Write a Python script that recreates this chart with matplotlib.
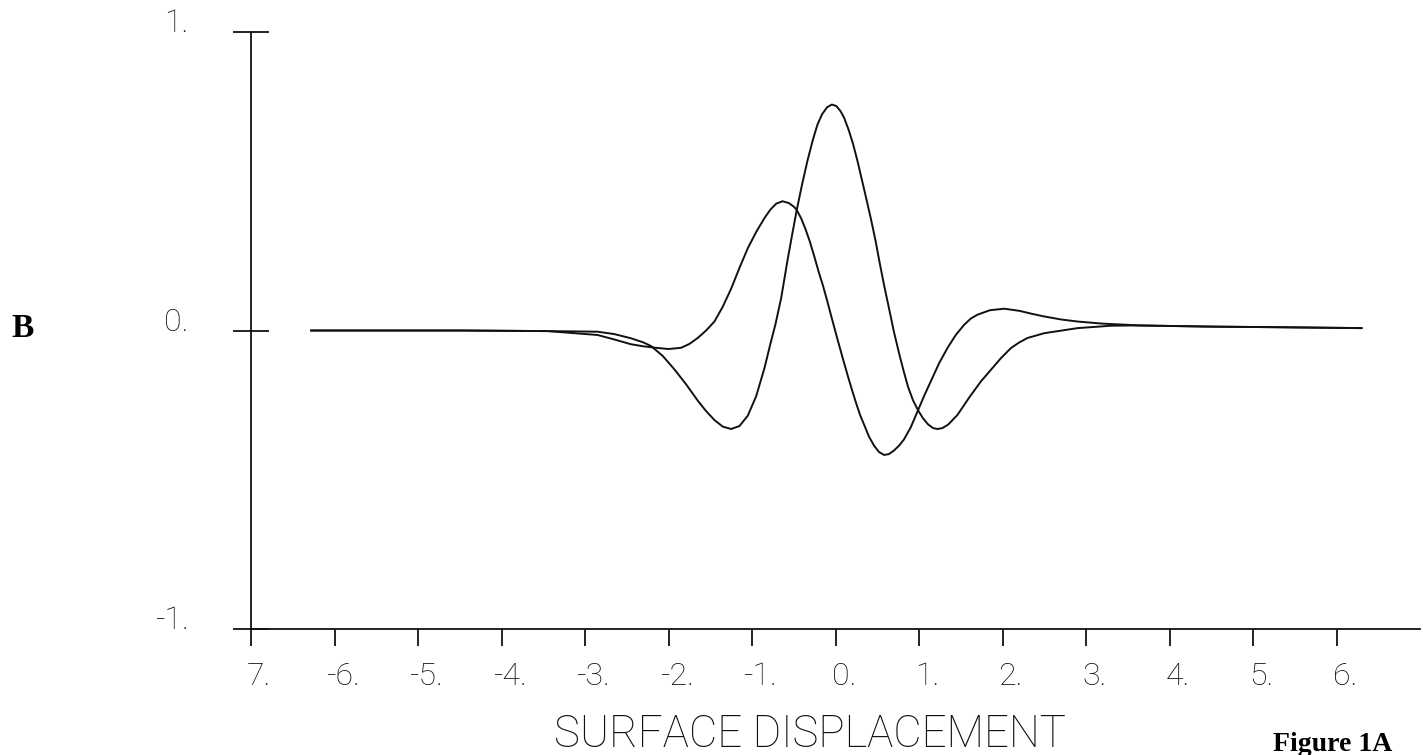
import matplotlib
matplotlib.use("Agg")
import matplotlib.pyplot as plt
import matplotlib.transforms as mtransforms

# values
# curve with the tall central peak
xa = [-6.28, -4.5, -3.45, -2.85, -2.65, -2.45, -2.3, -2.21, -2.07, -1.93,
      -1.79, -1.65, -1.55, -1.45, -1.35, -1.25, -1.15, -1.05, -0.95, -0.85,
      -0.78, -0.72, -0.65, -0.575, -0.52, -0.467, -0.40, -0.335, -0.27, -0.216,
      -0.16, -0.10, -0.044, 0.01, 0.06, 0.104, 0.16, 0.21, 0.263, 0.32,
      0.37, 0.423, 0.48, 0.53, 0.583, 0.64, 0.70, 0.76, 0.82, 0.87,
      0.93, 0.99, 1.05, 1.11, 1.17, 1.22, 1.28, 1.35, 1.46, 1.6,
      1.74, 1.86, 1.98, 2.1, 2.2, 2.3, 2.5, 2.9, 3.3, 3.6,
      4.5, 5.3, 6.3]
ya = [0.0, 0.0, -0.002, -0.004, -0.012, -0.026, -0.04, -0.052, -0.085, -0.13,
      -0.18, -0.235, -0.27, -0.300, -0.322, -0.330, -0.320, -0.285, -0.22, -0.125,
      -0.045, 0.02, 0.11, 0.235, 0.32, 0.400, 0.49, 0.570, 0.64, 0.690,
      0.725, 0.748, 0.757, 0.752, 0.735, 0.712, 0.67, 0.625, 0.568, 0.50,
      0.44, 0.375, 0.30, 0.225, 0.150, 0.075, -0.005, -0.075, -0.14, -0.19,
      -0.235, -0.268, -0.295, -0.315, -0.327, -0.330, -0.327, -0.315, -0.283, -0.225,
      -0.171, -0.132, -0.093, -0.059, -0.04, -0.025, -0.009, 0.008, 0.016, 0.017,
      0.013, 0.011, 0.008]

# curve with the smaller, shifted peak
xb = [-6.28, -4.5, -3.45, -2.85, -2.65, -2.45, -2.3, -2.15, -2.0, -1.85,
      -1.75, -1.65, -1.55, -1.45, -1.35, -1.25, -1.15, -1.05, -0.95, -0.85,
      -0.78, -0.71, -0.635, -0.56, -0.50, -0.467, -0.41, -0.36, -0.31, -0.256,
      -0.2, -0.15, -0.10, -0.056, 0.0, 0.044, 0.094, 0.144, 0.195, 0.243,
      0.293, 0.343, 0.40, 0.46, 0.52, 0.583, 0.64, 0.70, 0.76, 0.82,
      0.90, 0.99, 1.06, 1.14, 1.24, 1.34, 1.44, 1.54, 1.62, 1.70,
      1.85, 2.02, 2.2, 2.35, 2.5, 2.7, 2.9, 3.2, 3.5, 3.62,
      4.5, 5.3, 6.3]
yb = [0.0, 0.0, -0.002, -0.015, -0.03, -0.046, -0.053, -0.058, -0.062, -0.058,
      -0.045, -0.025, 0.0, 0.03, 0.08, 0.14, 0.21, 0.276, 0.33, 0.377,
      0.405, 0.425, 0.433, 0.427, 0.415, 0.405, 0.375, 0.34, 0.30, 0.25,
      0.195, 0.15, 0.10, 0.053, -0.005, -0.05, -0.1, -0.149, -0.197, -0.24,
      -0.282, -0.316, -0.355, -0.385, -0.407, -0.417, -0.414, -0.402, -0.386, -0.365,
      -0.325, -0.266, -0.22, -0.171, -0.11, -0.059, -0.015, 0.019, 0.04, 0.053,
      0.068, 0.073, 0.066, 0.056, 0.047, 0.037, 0.030, 0.023, 0.019, 0.017,
      0.013, 0.011, 0.008]

xticks = [-7, -6, -5, -4, -3, -2, -1, 0, 1, 2, 3, 4, 5, 6]
xtick_labels = ['7.', '-6.', '-5.', '-4.', '-3.', '-2.', '-1.', '0.',
                '1.', '2.', '3.', '4.', '5.', '6.']
yticks = [-1, 0, 1]
ytick_labels = ['-1.', '0.', '1.']

plot_font = 'Roboto'
ink = '#111111'

fig = plt.figure(figsize=(14.23, 7.55), dpi=100)
ax = fig.add_axes([0.1764, 0.1669, 0.8215, 0.7907])

ax.plot(xa, ya, color=ink, linewidth=1.4)
ax.plot(xb, yb, color=ink, linewidth=1.4)

ax.set_xlim(-7, 7)
ax.set_ylim(-1, 1)

for side in ['top', 'right']:
    ax.spines[side].set_visible(False)
for side in ['left', 'bottom']:
    ax.spines[side].set_linewidth(1.3)
    ax.spines[side].set_color(ink)

ax.set_xticks(xticks)
ax.set_xticklabels(xtick_labels, fontfamily=plot_font, fontweight='light',
                   fontsize=23)
ax.set_yticks(yticks)
ax.set_yticklabels(ytick_labels, fontfamily=plot_font, fontweight='light',
                   fontsize=23)

ax.tick_params(axis='x', direction='out', length=12, width=1.3, pad=12,
               colors=ink)
ax.tick_params(axis='y', direction='inout', length=26, width=1.3, pad=32,
               colors=ink)

# plotter put the digit on the tick, the dot trails to the right
# (done after tick_params, which resets the label transforms)
shift = mtransforms.ScaledTranslation(6 / 72, 0, fig.dpi_scale_trans)
for lab in ax.get_xticklabels():
    lab.set_transform(lab.get_transform() + shift)
for lab in ax.get_yticklabels():
    lab.set_verticalalignment('baseline')

ax.set_xlabel('SURFACE DISPLACEMENT', fontfamily=plot_font,
              fontweight='light', fontsize=31.5, color=ink, va='baseline')
ax.xaxis.set_label_coords(0.478, -0.198)

fig.text(23 / 1423, 1 - 337 / 755, 'B', ha='center', va='baseline',
         fontfamily='Liberation Serif', fontweight='bold', fontsize=24)
fig.text(1273 / 1423, 1 - 751 / 755, 'Figure 1A', ha='left', va='baseline',
         fontfamily='Liberation Serif', fontweight='bold', fontsize=20)

fig.savefig('out.png', dpi=100)
